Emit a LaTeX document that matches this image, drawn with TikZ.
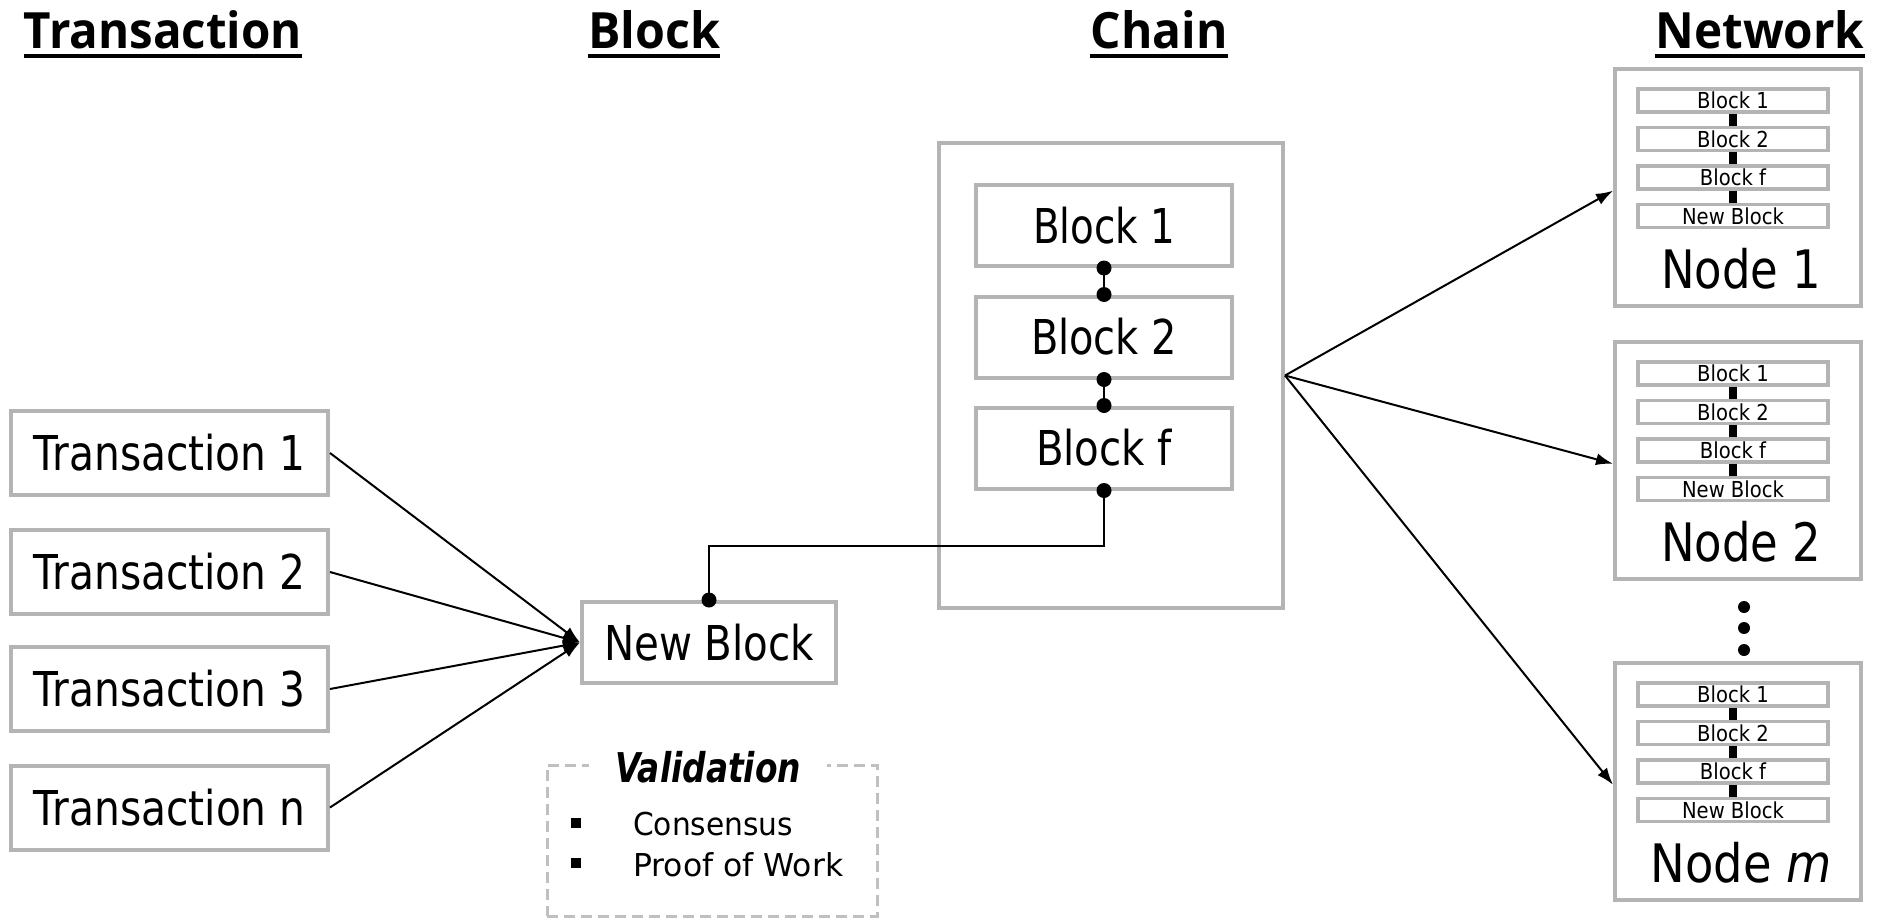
\documentclass[tikz,border=0pt]{standalone}
\usepackage{fontspec}
\setmainfont{DejaVu Sans}
\newfontfamily\titlefont{Open Sans}
\usetikzlibrary{arrows.meta}
\definecolor{boxgray}{RGB}{180,180,180}
\definecolor{dashgray}{RGB}{192,192,192}
\newcommand\fitto[2]{\resizebox{#1pt}{\height}{#2}}
\newcommand\sm[1]{\scalebox{0.89}[1]{#1}}
\newcommand\netnode[4]{%
  \node[gbox, minimum width=246pt, minimum height=237pt] (#1) at (1738,#2+120.5) {};
  \node[sbox] (#1-a) at (1733,#2+33.5) {\sm{Block 1}};
  \node[sbox] (#1-b) at (1733,#2+72) {\sm{Block 2}};
  \node[sbox] (#1-f) at (1733,#2+110.5) {\sm{Block f}};
  \node[sbox] (#1-n) at (1733,#2+149) {\sm{New Block}};
  \draw[barline] (#1-a.south) -- (#1-b.north);
  \draw[barline] (#1-b.south) -- (#1-f.north);
  \draw[barline] (#1-f.south) -- (#1-n.north);
  \node[nodetext, anchor=base, inner sep=0pt] (#1-l) at (1741,#2+221) {\fitto{#3}{#4}};
}
\begin{document}
\begin{tikzpicture}[x=1pt,y=-1pt,
  gbox/.style={draw=boxgray, line width=4pt, rectangle, inner sep=0pt},
  sbox/.style={draw=boxgray, line width=3.5pt, rectangle, inner sep=0pt, minimum width=190pt, minimum height=23pt, font=\fontsize{22}{22}\selectfont},
  bigtext/.style={font=\fontsize{48}{48}\selectfont},
  nodetext/.style={font=\fontsize{53}{53}\selectfont},
  ttl/.style={font=\titlefont\bfseries\fontsize{50}{50}\selectfont, anchor=base, inner sep=0pt},
  conn/.style={line width=2.4pt, draw=black},
  arr/.style={line width=2pt, draw=black, -{Latex[length=17pt,width=12pt]}},
  barline/.style={line width=8pt, draw=black},
]
\useasboundingbox (0,0) rectangle (1880,921);

% titles
\node[ttl] (ttx) at (163,48) {\fitto{278}{Transaction}};
\node[ttl] (tbl) at (654,48) {\fitto{132}{Block}};
\node[ttl] (tch) at (1159,48) {\fitto{137}{Chain}};
\node[ttl] (tnw) at (1760,48) {\fitto{209}{Network}};
\foreach \t in {ttx,tbl,tch,tnw}
  \draw[line width=3.5pt] ([yshift=-8pt]\t.base west) -- ([yshift=-8pt]\t.base east);

% transactions
\foreach \n/\y/\lab in {t1/453/Transaction 1, t2/572/Transaction 2, t3/689/Transaction 3, tn/807.5/Transaction n}
  \node[gbox, bigtext, minimum width=317pt, minimum height=84pt] (\n) at (169.5,\y) {\fitto{272}{\lab}};

% new block
\node[gbox, bigtext, minimum width=254pt, minimum height=81pt] (nb) at (709,642.5) {\fitto{210}{New Block}};

% chain
\node[gbox, minimum width=344pt, minimum height=465pt] (chain) at (1111,375.5) {};
\node[gbox, bigtext, minimum width=256pt, minimum height=81pt] (c1) at (1104,225.5) {\fitto{142}{Block 1}};
\node[gbox, bigtext, minimum width=256pt, minimum height=81pt] (c2) at (1104,337) {\fitto{146}{Block 2}};
\node[gbox, bigtext, minimum width=256pt, minimum height=81pt] (cf) at (1104,448) {\fitto{136}{Block f}};

\draw[conn] (c1.south) -- (c2.north);
\draw[conn] (c2.south) -- (cf.north);
\coordinate (elbow) at (1104,546);
\draw[conn] (cf.south) -- (elbow) -| (nb.north);
\foreach \p in {c1.south,c2.north,c2.south,cf.north,cf.south,nb.north}
  \fill (\p) circle (7.5pt);

% transaction arrows
\foreach \n in {t1,t2,t3,tn}
  \draw[arr] (\n.east) -- (nb.west);

% network
\netnode{n1}{67}{160}{Node 1}
\netnode{n2}{340}{160}{Node 2}
\netnode{nm}{661}{181}{Node \textit{m}}
\fill (1744,607) circle (6pt);
\fill (1744,628) circle (6pt);
\fill (1744,650) circle (6pt);

\foreach \n in {n1,n2,nm}
  \draw[arr] (chain.east) -- (\n.west |- \n-f.south);

% validation
\node[draw=dashgray, line width=3pt, dash pattern=on 11pt off 6pt, minimum width=330pt, minimum height=151pt, inner sep=0pt] (val) at (712,840.5) {};
\node[anchor=base, fill=white, inner xsep=26pt, inner ysep=3pt, font=\bfseries\itshape\fontsize{41}{41}\selectfont] (vt) at (708,782) {\fitto{186}{Validation}};
\fill (571,818) rectangle ++(10,10);
\fill (571,858) rectangle ++(10,10);
\node[anchor=base west, inner sep=0pt, font=\fontsize{31.5}{31.5}\selectfont] (v1) at (633,835) {\fitto{160}{Consensus}};
\node[anchor=base west, inner sep=0pt, font=\fontsize{31.5}{31.5}\selectfont] (v2) at (633,876) {\fitto{210}{Proof of Work}};
\end{tikzpicture}
\end{document}
